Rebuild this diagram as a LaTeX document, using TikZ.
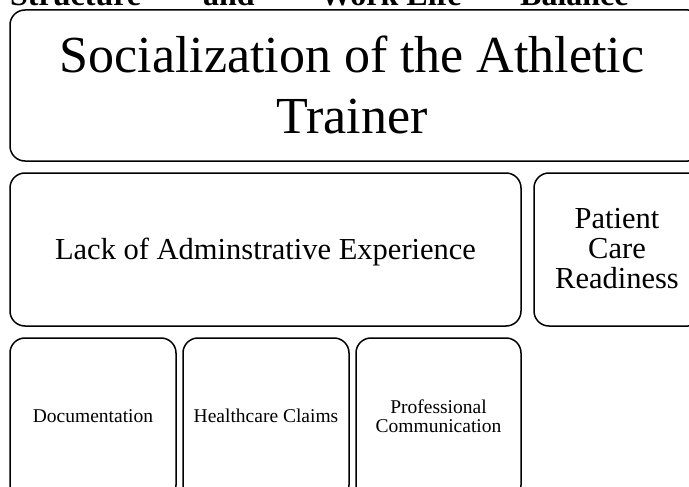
\documentclass[tikz,border=0pt]{standalone}
\usepackage{fontspec}
\setmainfont{Liberation Serif}
\begin{document}
\begin{tikzpicture}[x=1pt,y=-1pt,
  panel/.style={draw=black, line width=1.5pt, rounded corners=15pt, rectangle, inner sep=0pt, outer sep=0pt},
  txt/.style={inner sep=0pt, anchor=base},
  hdr/.style={inner sep=0pt, anchor=base west, font=\fontsize{32}{36}\selectfont\bfseries},
  big/.style={txt, font=\fontsize{52}{60}\selectfont},
  mid/.style={txt, font=\fontsize{30.5}{34}\selectfont},
  small/.style={txt, font=\fontsize{19.5}{22}\selectfont}]
\useasboundingbox (0,0) rectangle (689,487);
\clip (0,0) rectangle (689,487);
\fill[white] (0,0) rectangle (689,487);

% heading line, mostly above the page edge
\node[hdr] (h1) at (10,5.5) {Structure};
\node[hdr] (h2) at (203,5.5) {and};
\node[hdr] (h3) at (320,5.5) {Work Life};
\node[hdr] (h4) at (520,5.5) {Balance};

% panels
\node[panel, minimum width=693pt, minimum height=151pt] (top) at (356.5,85.5) {};
\node[panel, minimum width=511pt, minimum height=153pt] (admin) at (265.5,249.5) {};
\node[panel, minimum width=169pt, minimum height=153pt] (care) at (618.5,249.5) {};
\node[panel, minimum width=166pt, minimum height=162pt] (doc) at (93,419) {};
\node[panel, minimum width=166pt, minimum height=162pt] (claims) at (266,419) {};
\node[panel, minimum width=165pt, minimum height=162pt] (comm) at (438.5,419) {};

% labels
\node[big] (top1) at (352,73) {Socialization of the Athletic};
\node[big] (top2) at (352,133) {Trainer};
\node[mid] (adminlbl) at (265.5,259.5) {Lack of Adminstrative Experience};
\node[mid] (care1) at (617,228) {Patient};
\node[mid] (care2) at (617,258.5) {Care};
\node[mid] (care3) at (617,288) {Readiness};
\node[small] (doclbl) at (93,422) {Documentation};
\node[small] (claimslbl) at (266,422) {Healthcare Claims};
\node[small] (comm1) at (438.5,413) {Professional};
\node[small] (comm2) at (438.5,432) {Communication};
\end{tikzpicture}
\end{document}
